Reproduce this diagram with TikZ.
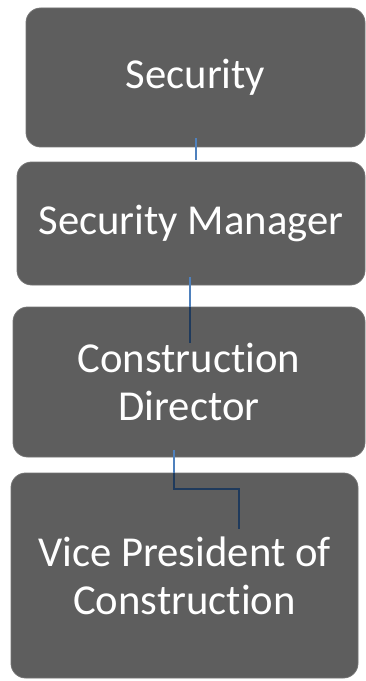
\documentclass[tikz,border=0pt]{standalone}
\usepackage{fontspec}
\setmainfont{Carlito}[Ligatures=NoCommon]
\usetikzlibrary{calc,positioning}
\definecolor{boxfill}{HTML}{5E5E5E}
\definecolor{boxedge}{HTML}{747474}
\definecolor{linkblue}{HTML}{4F81BD}
\definecolor{linknavy}{HTML}{1F3A5C}
\tikzset{
  rolebox/.style={draw=boxedge,fill=boxfill,line width=0.6pt,rounded corners=11pt,align=center,
    text=white,inner sep=0pt,font=\fontsize{32}{36}\selectfont},
  link/.style={line width=1.8pt,draw=linkblue},
  linkin/.style={line width=1.8pt,draw=linknavy}
}

\begin{document}
\begin{tikzpicture}[x=0.75pt,y=-0.75pt]
  \useasboundingbox (0,0) rectangle (366,681);

  % chain of roles, top to bottom
  \node[rolebox,minimum width=254.25pt,minimum height=104.25pt] (sec) at (195.5,77.5) {Security};
  \node[rolebox,minimum width=261pt,minimum height=92.25pt] (mgr) at (191,223.5) {Security Manager};
  \node[rolebox,minimum width=264pt,minimum height=112.5pt] (dir) at (189,382) {Construction\\Director};
  \node[rolebox,minimum width=260.25pt,minimum height=153.75pt] (vp) at (184.5,575.5) {Vice President of\\Construction};

  % connector ends
  \coordinate (s1) at (196,138);
  \coordinate (e1) at (196,160);
  \coordinate (s2) at (190,277);
  \coordinate (e2) at (190,343);
  \coordinate (s3) at (174,450);
  \coordinate (k3) at (174,489);
  \coordinate (e3) at (239,529);

  \draw[link] (s1) -- (e1);

  \draw[link] (s2) -- (s2 |- dir.north);
  \draw[linkin] (s2 |- dir.north) -- (e2);

  \draw[link] (s3) -- (s3 |- vp.north);
  \draw[linkin] (s3 |- vp.north) -- (k3) -| (e3);
\end{tikzpicture}
\end{document}
